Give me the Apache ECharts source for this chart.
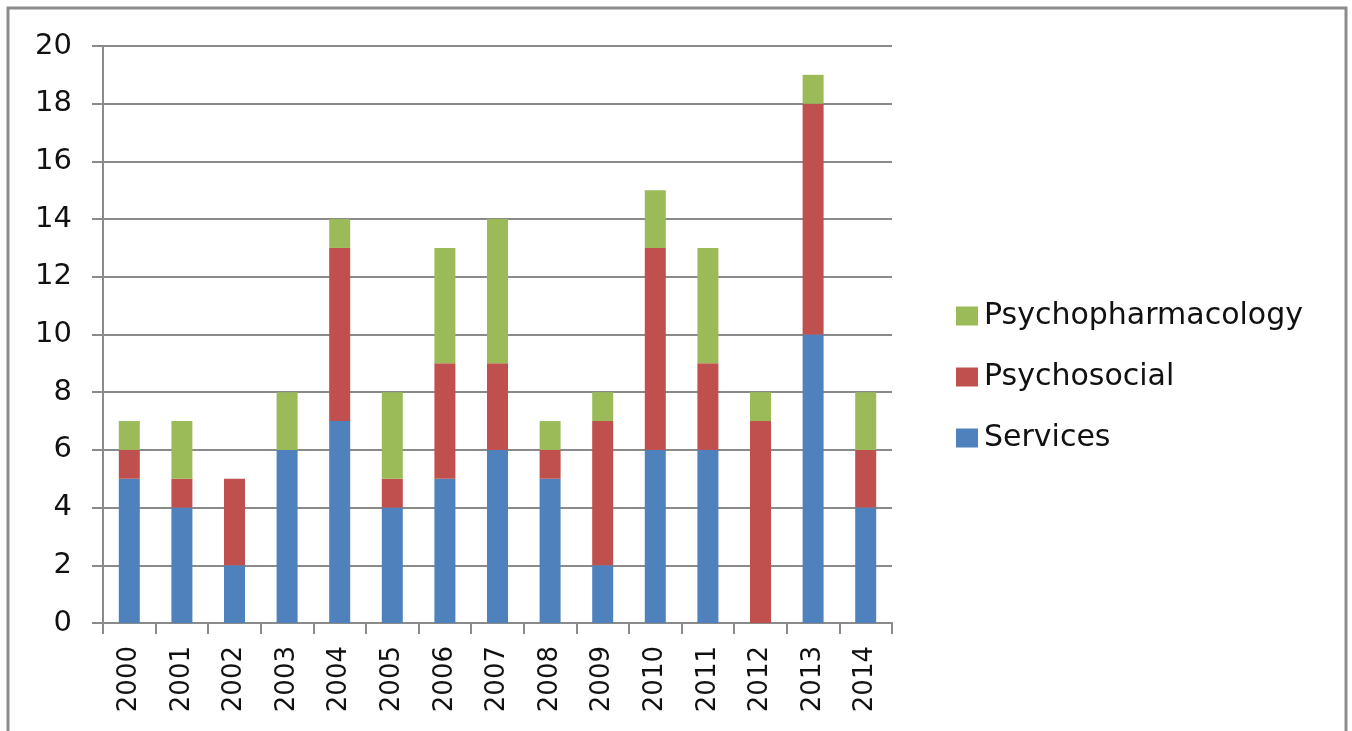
<!DOCTYPE html>
<html>
<head>
<meta charset="utf-8">
<script src="https://cdn.jsdelivr.net/npm/echarts@6/dist/echarts.min.js"></script>
<style>
html, body { margin: 0; padding: 0; background: #fff; }
#chart { width: 1352px; height: 731px; }
</style>
</head>
<body>
<div id="chart"></div>
<script>
// 数据
var years = ['2000','2001','2002','2003','2004','2005','2006','2007','2008','2009','2010','2011','2012','2013','2014'];
var services = [5, 4, 2, 6, 7, 4, 5, 6, 5, 2, 6, 6, 0, 10, 4];
var psychosocial = [1, 1, 3, 0, 6, 1, 4, 3, 1, 5, 7, 3, 7, 8, 2];
var psychopharmacology = [1, 2, 0, 2, 1, 3, 4, 5, 1, 1, 2, 4, 1, 1, 2];
var legendOrder = ['Psychopharmacology', 'Psychosocial', 'Services'];

var myChart = echarts.init(document.getElementById('chart'));
var font = 'DejaVu Sans';
var gridColor = '#8a8a8a';

function barSeries(name, data, color) {
    return {
        name: name,
        type: 'bar',
        stack: 'total',
        barWidth: 21,
        itemStyle: {
            color: color
        },
        data: data
    };
}

var option = {
    animation: false,
    backgroundColor: '#fff',
    // 外框
    graphic: [{
        type: 'rect',
        shape: { x: 8, y: 8, width: 1338, height: 800 },
        style: { fill: 'none', stroke: '#8c8c8c', lineWidth: 3 },
        silent: true
    }],
    grid: {
        left: 103,
        right: 460,
        top: 46,
        bottom: 108
    },
    legend: {
        orient: 'vertical',
        left: 951,
        top: 296,
        itemWidth: 22,
        itemHeight: 19,
        itemGap: 31,
        icon: 'rect',
        data: legendOrder,
        textStyle: {
            fontFamily: font,
            fontSize: 30,
            color: '#111',
            padding: [0, 0, 0, 1]
        }
    },
    xAxis: {
        type: 'category',
        data: years,
        axisLine: { lineStyle: { color: gridColor, width: 2 } },
        axisTick: { show: true, length: 11, lineStyle: { color: gridColor, width: 2 } },
        axisLabel: {
            rotate: 90,
            margin: 23,
            fontFamily: font,
            fontSize: 26,
            color: '#111'
        }
    },
    yAxis: {
        type: 'value',
        min: 0,
        max: 20,
        interval: 2,
        axisLine: { show: true, lineStyle: { color: gridColor, width: 2 } },
        axisTick: { show: true, length: 11, lineStyle: { color: gridColor, width: 2 } },
        splitLine: { lineStyle: { color: gridColor, width: 2 } },
        axisLabel: {
            margin: 31,
            fontFamily: font,
            fontSize: 29,
            color: '#111'
        }
    },
    series: [
        barSeries('Services', services, '#4F81BD'),
        barSeries('Psychosocial', psychosocial, '#C0504D'),
        barSeries('Psychopharmacology', psychopharmacology, '#9BBB59')
    ]
};
myChart.setOption(option);
</script>
</body>
</html>
